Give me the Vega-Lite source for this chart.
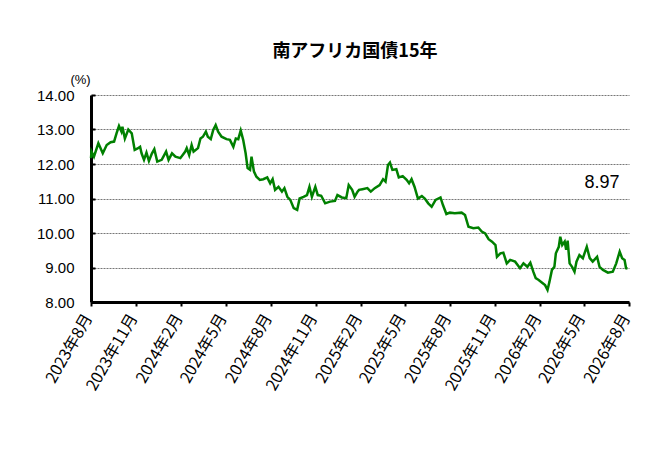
{
  "$schema": "https://vega.github.io/schema/vega-lite/v6.json",
  "width": 538,
  "height": 207,
  "autosize": "none",
  "padding": {"left": 91, "top": 95, "right": 36, "bottom": 156},
  "background": "white",
  "title": {
    "text": "南アフリカ国債15年",
    "font": "Noto Sans CJK JP",
    "fontSize": 18,
    "fontWeight": "bold",
    "color": "black",
    "anchor": "middle",
    "frame": "group",
    "dx": -5,
    "offset": 12
  },
  "config": {
    "view": {"stroke": null}
  },
  "datasets": {
    "series": [
      {"date": "2023-08-01", "value": 12.17},
      {"date": "2023-08-02", "value": 12.36},
      {"date": "2023-08-07", "value": 12.21},
      {"date": "2023-08-16", "value": 12.6},
      {"date": "2023-08-25", "value": 12.31},
      {"date": "2023-09-02", "value": 12.55},
      {"date": "2023-09-10", "value": 12.63},
      {"date": "2023-09-17", "value": 12.65},
      {"date": "2023-09-22", "value": 12.89},
      {"date": "2023-09-27", "value": 13.1},
      {"date": "2023-10-02", "value": 12.94},
      {"date": "2023-10-04", "value": 13.08},
      {"date": "2023-10-09", "value": 12.74},
      {"date": "2023-10-16", "value": 13.0},
      {"date": "2023-10-23", "value": 12.89},
      {"date": "2023-10-29", "value": 12.41},
      {"date": "2023-11-04", "value": 12.45},
      {"date": "2023-11-09", "value": 12.5},
      {"date": "2023-11-12", "value": 12.31},
      {"date": "2023-11-17", "value": 12.12},
      {"date": "2023-11-22", "value": 12.33},
      {"date": "2023-11-27", "value": 12.09},
      {"date": "2023-12-03", "value": 12.3},
      {"date": "2023-12-08", "value": 12.43},
      {"date": "2023-12-14", "value": 12.07},
      {"date": "2023-12-23", "value": 12.12},
      {"date": "2024-01-01", "value": 12.36},
      {"date": "2024-01-06", "value": 12.12},
      {"date": "2024-01-13", "value": 12.31},
      {"date": "2024-01-20", "value": 12.21},
      {"date": "2024-01-30", "value": 12.17},
      {"date": "2024-02-09", "value": 12.36},
      {"date": "2024-02-12", "value": 12.46},
      {"date": "2024-02-17", "value": 12.26},
      {"date": "2024-02-22", "value": 12.55},
      {"date": "2024-02-26", "value": 12.36},
      {"date": "2024-03-06", "value": 12.46},
      {"date": "2024-03-11", "value": 12.74},
      {"date": "2024-03-16", "value": 12.79},
      {"date": "2024-03-22", "value": 12.94},
      {"date": "2024-03-26", "value": 12.79},
      {"date": "2024-04-01", "value": 12.72},
      {"date": "2024-04-06", "value": 12.99},
      {"date": "2024-04-11", "value": 13.13},
      {"date": "2024-04-16", "value": 12.94},
      {"date": "2024-04-23", "value": 12.79},
      {"date": "2024-05-03", "value": 12.72},
      {"date": "2024-05-10", "value": 12.7},
      {"date": "2024-05-17", "value": 12.5},
      {"date": "2024-05-22", "value": 12.74},
      {"date": "2024-05-27", "value": 12.72},
      {"date": "2024-06-01", "value": 12.97},
      {"date": "2024-06-06", "value": 12.7},
      {"date": "2024-06-11", "value": 12.31},
      {"date": "2024-06-15", "value": 11.88},
      {"date": "2024-06-20", "value": 11.83},
      {"date": "2024-06-23", "value": 12.21},
      {"date": "2024-06-28", "value": 11.78},
      {"date": "2024-07-03", "value": 11.63},
      {"date": "2024-07-10", "value": 11.54},
      {"date": "2024-07-17", "value": 11.56},
      {"date": "2024-07-25", "value": 11.61},
      {"date": "2024-07-31", "value": 11.44},
      {"date": "2024-08-05", "value": 11.56},
      {"date": "2024-08-10", "value": 11.25},
      {"date": "2024-08-17", "value": 11.34},
      {"date": "2024-08-24", "value": 11.2},
      {"date": "2024-08-29", "value": 11.3},
      {"date": "2024-09-04", "value": 11.05},
      {"date": "2024-09-10", "value": 10.96},
      {"date": "2024-09-17", "value": 10.72},
      {"date": "2024-09-24", "value": 10.67},
      {"date": "2024-09-29", "value": 11.0},
      {"date": "2024-10-07", "value": 11.05},
      {"date": "2024-10-14", "value": 11.1},
      {"date": "2024-10-19", "value": 11.34},
      {"date": "2024-10-24", "value": 11.05},
      {"date": "2024-10-31", "value": 11.34},
      {"date": "2024-11-05", "value": 11.1},
      {"date": "2024-11-12", "value": 11.08},
      {"date": "2024-11-20", "value": 10.86},
      {"date": "2024-11-30", "value": 10.91},
      {"date": "2024-12-10", "value": 10.93},
      {"date": "2024-12-15", "value": 11.1},
      {"date": "2024-12-24", "value": 11.03},
      {"date": "2025-01-02", "value": 11.01},
      {"date": "2025-01-07", "value": 11.39},
      {"date": "2025-01-14", "value": 11.25},
      {"date": "2025-01-19", "value": 11.05},
      {"date": "2025-01-25", "value": 11.2},
      {"date": "2025-01-28", "value": 11.25},
      {"date": "2025-02-04", "value": 11.27},
      {"date": "2025-02-14", "value": 11.3},
      {"date": "2025-02-21", "value": 11.2},
      {"date": "2025-03-01", "value": 11.3},
      {"date": "2025-03-11", "value": 11.39},
      {"date": "2025-03-18", "value": 11.56},
      {"date": "2025-03-23", "value": 11.49},
      {"date": "2025-03-28", "value": 11.97},
      {"date": "2025-04-01", "value": 12.04},
      {"date": "2025-04-06", "value": 11.83},
      {"date": "2025-04-14", "value": 11.85},
      {"date": "2025-04-19", "value": 11.61},
      {"date": "2025-04-27", "value": 11.65},
      {"date": "2025-05-05", "value": 11.54},
      {"date": "2025-05-10", "value": 11.44},
      {"date": "2025-05-15", "value": 11.56},
      {"date": "2025-05-21", "value": 11.34},
      {"date": "2025-05-28", "value": 11.0},
      {"date": "2025-06-05", "value": 11.07},
      {"date": "2025-06-11", "value": 11.0},
      {"date": "2025-06-18", "value": 10.86},
      {"date": "2025-06-25", "value": 10.76},
      {"date": "2025-07-03", "value": 10.96},
      {"date": "2025-07-13", "value": 11.03},
      {"date": "2025-07-18", "value": 10.81},
      {"date": "2025-07-25", "value": 10.55},
      {"date": "2025-08-01", "value": 10.59},
      {"date": "2025-08-11", "value": 10.57},
      {"date": "2025-08-25", "value": 10.59},
      {"date": "2025-09-01", "value": 10.52},
      {"date": "2025-09-08", "value": 10.18},
      {"date": "2025-09-18", "value": 10.14},
      {"date": "2025-09-28", "value": 10.16},
      {"date": "2025-10-05", "value": 10.04},
      {"date": "2025-10-12", "value": 9.99},
      {"date": "2025-10-19", "value": 9.82},
      {"date": "2025-10-26", "value": 9.75},
      {"date": "2025-11-02", "value": 9.65},
      {"date": "2025-11-05", "value": 9.31},
      {"date": "2025-11-12", "value": 9.41},
      {"date": "2025-11-18", "value": 9.43},
      {"date": "2025-11-25", "value": 9.12},
      {"date": "2025-12-02", "value": 9.22},
      {"date": "2025-12-12", "value": 9.17},
      {"date": "2025-12-22", "value": 8.98},
      {"date": "2025-12-29", "value": 9.12},
      {"date": "2026-01-06", "value": 9.02},
      {"date": "2026-01-12", "value": 9.14},
      {"date": "2026-01-18", "value": 8.88},
      {"date": "2026-01-23", "value": 8.69},
      {"date": "2026-01-29", "value": 8.64},
      {"date": "2026-02-05", "value": 8.56},
      {"date": "2026-02-11", "value": 8.49},
      {"date": "2026-02-16", "value": 8.35},
      {"date": "2026-02-20", "value": 8.59},
      {"date": "2026-02-25", "value": 8.93},
      {"date": "2026-03-02", "value": 9.02},
      {"date": "2026-03-05", "value": 9.41},
      {"date": "2026-03-11", "value": 9.6},
      {"date": "2026-03-14", "value": 9.89},
      {"date": "2026-03-18", "value": 9.65},
      {"date": "2026-03-23", "value": 9.75},
      {"date": "2026-03-26", "value": 9.51},
      {"date": "2026-03-29", "value": 9.78},
      {"date": "2026-04-02", "value": 9.12},
      {"date": "2026-04-07", "value": 9.02},
      {"date": "2026-04-12", "value": 8.88},
      {"date": "2026-04-16", "value": 9.17},
      {"date": "2026-04-22", "value": 9.36},
      {"date": "2026-04-29", "value": 9.27},
      {"date": "2026-05-07", "value": 9.6},
      {"date": "2026-05-13", "value": 9.27},
      {"date": "2026-05-19", "value": 9.17},
      {"date": "2026-05-28", "value": 9.31},
      {"date": "2026-06-02", "value": 9.02},
      {"date": "2026-06-09", "value": 8.93},
      {"date": "2026-06-19", "value": 8.85},
      {"date": "2026-06-29", "value": 8.88},
      {"date": "2026-07-06", "value": 9.12},
      {"date": "2026-07-13", "value": 9.46},
      {"date": "2026-07-18", "value": 9.27},
      {"date": "2026-07-23", "value": 9.22},
      {"date": "2026-07-26", "value": 8.98},
      {"date": "2026-07-29", "value": 8.97}
    ],
    "note": [
      {"date": "2026-06-07", "value": 11.46, "label": "8.97"}
    ]
  },
  "encoding": {
    "x": {
      "field": "date",
      "type": "temporal",
      "scale": {
        "type": "utc",
        "domain": [
          {"year": 2023, "month": 8, "date": 1, "utc": true},
          {"year": 2026, "month": 8, "date": 1, "utc": true}
        ]
      },
      "axis": {
        "title": null,
        "grid": false,
        "values": [
          {"year": 2023, "month": 8, "date": 1, "utc": true},
          {"year": 2023, "month": 11, "date": 1, "utc": true},
          {"year": 2024, "month": 2, "date": 1, "utc": true},
          {"year": 2024, "month": 5, "date": 1, "utc": true},
          {"year": 2024, "month": 8, "date": 1, "utc": true},
          {"year": 2024, "month": 11, "date": 1, "utc": true},
          {"year": 2025, "month": 2, "date": 1, "utc": true},
          {"year": 2025, "month": 5, "date": 1, "utc": true},
          {"year": 2025, "month": 8, "date": 1, "utc": true},
          {"year": 2025, "month": 11, "date": 1, "utc": true},
          {"year": 2026, "month": 2, "date": 1, "utc": true},
          {"year": 2026, "month": 5, "date": 1, "utc": true},
          {"year": 2026, "month": 8, "date": 1, "utc": true}
        ],
        "labelExpr": "utcyear(datum.value) + '年' + (utcmonth(datum.value) + 1) + '月'",
        "labelFont": "Noto Sans CJK JP",
        "labelFontSize": 16,
        "labelColor": "black",
        "labelAngle": -60,
        "labelAlign": "right",
        "labelBaseline": "middle",
        "labelPadding": 9,
        "labelOffset": -3,
        "labelOverlap": false,
        "labelBound": false,
        "labelFlush": false,
        "domainColor": "black",
        "domainWidth": 3,
        "tickColor": "black",
        "tickWidth": 2,
        "tickSize": 4
      }
    },
    "y": {
      "field": "value",
      "type": "quantitative",
      "scale": {"domain": [8, 14], "nice": false, "zero": false},
      "axis": {
        "values": [8, 9, 10, 11, 12, 13, 14],
        "format": ".2f",
        "title": "(%)",
        "titleFont": "Liberation Sans",
        "titleFontSize": 13,
        "titleFontWeight": "normal",
        "titleColor": "black",
        "titleAngle": 0,
        "titleAlign": "center",
        "titleBaseline": "middle",
        "titleX": -11,
        "titleY": -16,
        "labelFont": "Liberation Sans",
        "labelFontSize": 15,
        "labelColor": "black",
        "labelPadding": 21,
        "labelOverlap": false,
        "labelFlush": false,
        "domainColor": "black",
        "domainWidth": 3,
        "tickColor": "black",
        "tickWidth": 2,
        "tickSize": -4,
        "grid": true,
        "gridColor": "#777777",
        "gridDash": [2, 1],
        "gridWidth": 1
      }
    }
  },
  "layer": [
    {
      "data": {"name": "series"},
      "mark": {"type": "line", "color": "#008000", "strokeWidth": 2.5}
    },
    {
      "data": {"name": "note"},
      "mark": {"type": "text", "font": "Liberation Sans", "fontSize": 18, "color": "black", "align": "center", "baseline": "middle"},
      "encoding": {
        "text": {"field": "label"}
      }
    }
  ]
}
